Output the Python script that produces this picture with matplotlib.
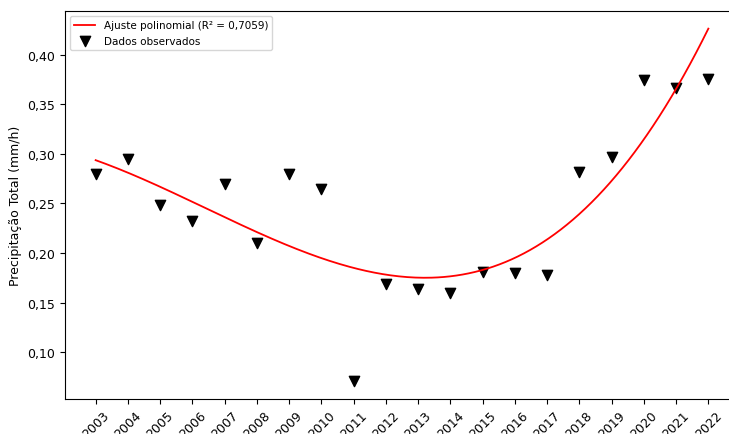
import numpy as np
import matplotlib.pyplot as plt
from matplotlib.ticker import FuncFormatter

# dados observados
anos = [2003, 2004, 2005, 2006, 2007, 2008, 2009, 2010, 2011, 2012,
        2013, 2014, 2015, 2016, 2017, 2018, 2019, 2020, 2021, 2022]
precip = [0.280, 0.295, 0.2485, 0.232, 0.270, 0.2105, 0.280, 0.265, 0.0705, 0.1685,
          0.164, 0.160, 0.181, 0.1795, 0.1775, 0.282, 0.297, 0.3745, 0.3665, 0.376]
rotulo_ajuste = 'Ajuste polinomial (R² = 0,7059)'
rotulo_dados = 'Dados observados'


def main():
    x = np.array(anos, dtype=float)
    y = np.array(precip)

    # ajuste polinomial de grau 3
    coefs = np.polyfit(x - x.mean(), y, 3)
    xs = np.linspace(x.min(), x.max(), 300)
    ys = np.polyval(coefs, xs - x.mean())

    fig = plt.figure(figsize=(7.29, 4.35), dpi=100)
    ax = fig.add_axes([65 / 729, 35 / 435, 674 / 729, 388 / 435])

    ax.plot(xs, ys, color='red', lw=1.3, label=rotulo_ajuste)
    ax.scatter(x, y, marker='v', color='black', s=55, label=rotulo_dados)

    ax.set_xticks(anos)
    ax.set_xticklabels([str(a) for a in anos], rotation=45, fontsize=9)
    ax.set_yticks([0.10, 0.15, 0.20, 0.25, 0.30, 0.35, 0.40])
    ax.yaxis.set_major_formatter(FuncFormatter(lambda v, p: f'{v:.2f}'.replace('.', ',')))
    ax.tick_params(axis='y', labelsize=9)
    ax.set_ylabel('Precipitação Total (mm/h)', fontsize=9)

    ax.legend(loc='upper left', fontsize=7.5)

    fig.savefig('out.png', dpi=100)


main()
